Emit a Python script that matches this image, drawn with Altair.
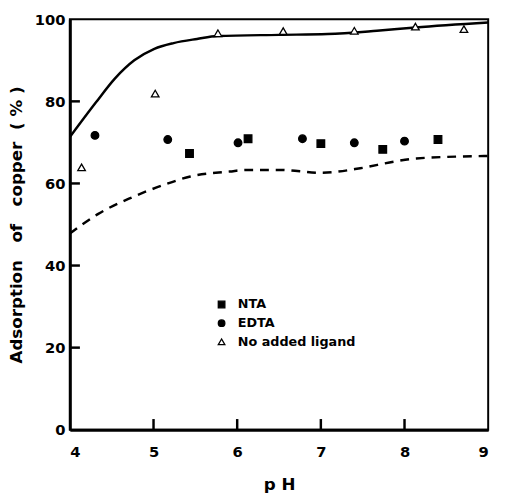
import altair as alt
import pandas as pd

# Measured points
nta_ph = [5.43, 6.13, 7.00, 7.74, 8.40]
nta_val = [67.3, 70.9, 69.7, 68.3, 70.7]
edta_ph = [4.30, 5.17, 6.01, 6.78, 7.40, 8.00]
edta_val = [71.7, 70.7, 69.9, 70.9, 69.9, 70.3]
none_ph = [4.14, 5.02, 5.77, 6.55, 7.40, 8.13, 8.71]
none_val = [63.9, 81.9, 96.6, 97.1, 97.2, 98.2, 97.6]

# Curves
solid_ph = [4.0, 4.31, 4.54, 4.77, 5.01, 5.24, 5.52, 5.77, 6.5, 7.08, 7.67, 8.13, 9.0]
solid_val = [71.3, 79.7, 85.6, 90.0, 92.8, 94.2, 95.2, 95.9, 96.2, 96.4, 97.2, 98.0, 99.2]
dashed_ph = [4.0, 4.34, 4.73, 5.13, 5.44, 5.91, 6.10, 6.50, 7.0, 7.47, 7.87, 8.14, 9.0]
dashed_val = [47.8, 52.6, 56.5, 59.7, 61.7, 62.9, 63.3, 63.3, 62.6, 63.7, 65.3, 66.1, 66.7]

series_names = ["NTA", "EDTA", "No added ligand"]
x_ticks = [4, 5, 6, 7, 8, 9]
y_ticks = [0, 20, 40, 60, 80, 100]
x_inner_ticks = [5.0, 6.0, 7.0, 8.0]
y_inner_ticks = [20.0, 40.0, 60.0, 80.0]
x_tick_len = 2.6    # in % units
y_tick_len = 0.12   # in pH units

pts = pd.DataFrame(
    [{"ph": p, "val": v, "series": series_names[0]} for p, v in zip(nta_ph, nta_val)]
    + [{"ph": p, "val": v, "series": series_names[1]} for p, v in zip(edta_ph, edta_val)]
    + [{"ph": p, "val": v, "series": series_names[2]} for p, v in zip(none_ph, none_val)]
)
solid = pd.DataFrame({"ph": solid_ph, "val": solid_val})
dashed = pd.DataFrame({"ph": dashed_ph, "val": dashed_val})

# inward frame ticks as short segments
tick_rows = [{"x1": t, "x2": t, "y1": 0.0, "y2": x_tick_len} for t in x_inner_ticks]
tick_rows += [{"x1": 4.0, "x2": 4.0 + y_tick_len, "y1": t, "y2": t} for t in y_inner_ticks]
ticks = pd.DataFrame(tick_rows)

FONT = "DejaVu Sans"
NB = "\u00a0"

xscale = alt.Scale(domain=[4, 9], nice=False, zero=False)
yscale = alt.Scale(domain=[0, 100], nice=False, zero=False)

xaxis = alt.Axis(values=x_ticks, title="p" + NB + "H", tickSize=0, labelPadding=15,
                 titlePadding=18, format="d")
ytitle = ("Adsorption" + NB * 3 + "of" + NB * 3 + "copper" + NB * 2 + "(" + NB + "%" + NB + ")")
yaxis = alt.Axis(values=y_ticks, title=ytitle, tickSize=0,
                 labelPadding=5, titlePadding=9, format="d")

tick_marks = alt.Chart(ticks).mark_rule(color="black", strokeWidth=2.5).encode(
    x=alt.X("x1:Q", scale=xscale, axis=xaxis),
    x2="x2:Q",
    y=alt.Y("y1:Q", scale=yscale, axis=yaxis),
    y2="y2:Q",
)

line_solid = alt.Chart(solid).mark_line(color="black", strokeWidth=2.5, interpolate="monotone").encode(
    x=alt.X("ph:Q", scale=xscale),
    y=alt.Y("val:Q", scale=yscale),
)
line_dashed = alt.Chart(dashed).mark_line(color="black", strokeWidth=2.5, strokeDash=[9, 7],
                                          interpolate="monotone").encode(
    x=alt.X("ph:Q", scale=xscale),
    y=alt.Y("val:Q", scale=yscale),
)

leg = alt.Legend(title=None, orient="none", legendX=148, legendY=284,
                 labelFont=FONT, labelFontSize=13, labelFontWeight="bold",
                 labelColor="black", symbolSize=45, symbolStrokeColor="black",
                 symbolStrokeWidth=1.3, labelOffset=10, rowPadding=5, padding=0)

points = alt.Chart(pts).mark_point(filled=True, strokeWidth=1.3, size=60, opacity=1).encode(
    x=alt.X("ph:Q", scale=xscale),
    y=alt.Y("val:Q", scale=yscale),
    shape=alt.Shape("series:N", scale=alt.Scale(domain=series_names,
                                                 range=["square", "circle", "triangle-up"]),
                    legend=leg),
    fill=alt.Fill("series:N", scale=alt.Scale(domain=series_names,
                                               range=["black", "black", "white"]),
                  legend=leg),
    stroke=alt.Stroke("series:N", scale=alt.Scale(domain=series_names,
                                                   range=["black", "black", "black"]),
                      legend=leg),
)

chart = alt.layer(tick_marks, line_solid, line_dashed, points).properties(
    width=426, height=418,
    autosize=alt.AutoSizeParams(type="none"),
    padding={"left": 63, "top": 7, "right": 10, "bottom": 62},
).configure_view(
    stroke="black", strokeWidth=2
).configure_axis(
    grid=False, domainColor="black", domainWidth=3,
    labelFont=FONT, labelFontSize=15, labelFontWeight="bold", labelColor="black",
    titleFont=FONT, titleFontSize=17, titleFontWeight="bold", titleColor="black",
)

chart.save("out.html", embed_options={"renderer": "svg", "actions": False})
